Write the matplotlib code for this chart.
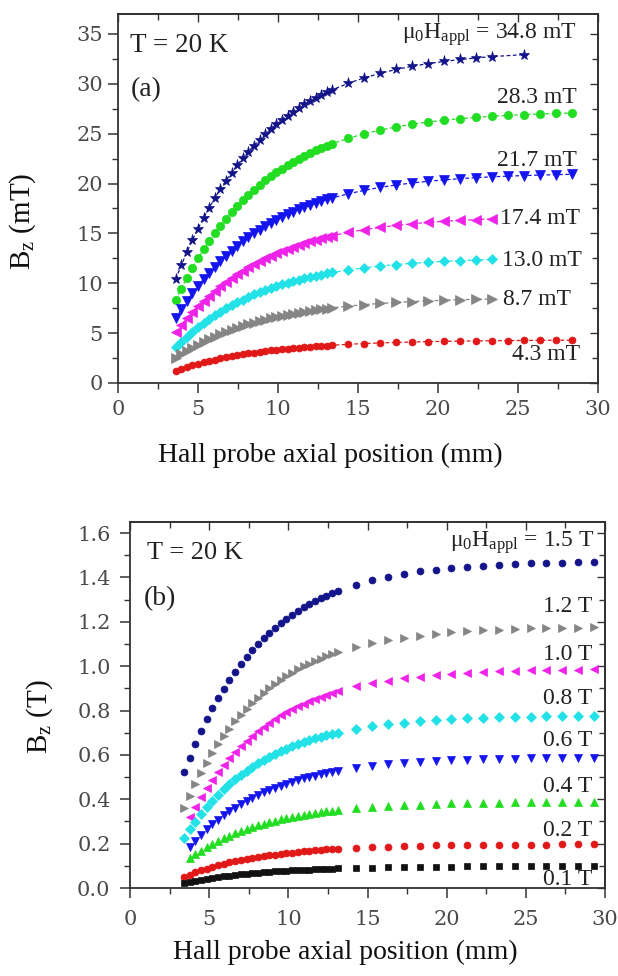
import matplotlib
matplotlib.use("Agg")
import matplotlib.pyplot as plt
from matplotlib.ticker import MultipleLocator, FormatStrFormatter, NullFormatter

plt.rcParams.update({
    "font.family": ["Liberation Serif", "DejaVu Serif"],
    "mathtext.fontset": "custom",
    "mathtext.rm": "Liberation Serif",
    "mathtext.it": "Liberation Serif:italic",
    "mathtext.bf": "Liberation Serif:bold",
})

# ── (a) low field, mT ──
XA_DENSE = [3.6, 3.95, 4.3, 4.65, 5.0, 5.35, 5.7, 6.05, 6.4, 6.75, 7.1, 7.45, 7.8, 8.15,
            8.5, 8.85, 9.2, 9.55, 9.9, 10.25, 10.6, 10.95, 11.3, 11.65, 12.0, 12.35, 12.7,
            13.05, 13.4]
XA_TAIL = [14.4, 15.4, 16.4, 17.4, 18.4, 19.4, 20.4, 21.4, 22.4, 23.4, 24.4, 25.4, 26.4,
           27.4, 28.4]

A_LABELS = ["34.8", "28.3", "21.7", "17.4", "13.0", "8.7", "4.3"]
A_348 = [10.40, 11.79, 13.10, 14.33, 15.49, 16.57, 17.59, 18.55, 19.45, 20.29, 21.09, 21.84,
         22.53, 23.19, 23.81, 24.39, 24.94, 25.45, 25.93, 26.38, 26.81, 27.21, 27.59, 27.94,
         28.27, 28.58, 28.87, 29.14, 29.40,
         30.06, 30.60, 31.06, 31.44, 31.76, 32.03, 32.25, 32.44, 32.60, 32.73, 32.93]
A_283 = [8.30, 9.45, 10.53, 11.55, 12.50, 13.40, 14.24, 15.03, 15.78, 16.47, 17.13, 17.75,
         18.32, 18.87, 19.38, 19.86, 20.31, 20.73, 21.13, 21.50, 21.86, 22.19, 22.50, 22.79,
         23.06, 23.32, 23.56, 23.78, 24.00,
         24.54, 24.99, 25.37, 25.68, 25.95, 26.17, 26.35, 26.51, 26.64, 26.75, 26.84, 26.91,
         26.98, 27.03, 27.07]
A_217 = [6.50, 7.38, 8.22, 9.00, 9.73, 10.42, 11.07, 11.67, 12.25, 12.78, 13.28, 13.76,
         14.20, 14.62, 15.01, 15.38, 15.73, 16.05, 16.36, 16.65, 16.92, 17.17, 17.41, 17.63,
         17.84, 18.04, 18.23, 18.40, 18.56,
         18.98, 19.32, 19.62, 19.86, 20.06, 20.23, 20.37, 20.49, 20.59, 20.68, 20.74, 20.80,
         20.85, 20.89, 20.93]
A_174 = [5.10, 5.81, 6.47, 7.10, 7.69, 8.24, 8.76, 9.25, 9.70, 10.13, 10.54, 10.92, 11.27,
         11.61, 11.92, 12.22, 12.50, 12.76, 13.00, 13.23, 13.45, 13.65, 13.84, 14.02, 14.19,
         14.35, 14.50, 14.64, 14.77,
         15.10, 15.38, 15.61, 15.80, 15.97, 16.10, 16.22, 16.31, 16.39, 16.46]
A_130 = [3.60, 4.15, 4.66, 5.15, 5.60, 6.03, 6.43, 6.81, 7.16, 7.49, 7.81, 8.10, 8.37, 8.63,
         8.88, 9.11, 9.32, 9.52, 9.71, 9.89, 10.06, 10.21, 10.36, 10.50, 10.63, 10.75, 10.87,
         10.98, 11.08,
         11.33, 11.55, 11.73, 11.88, 12.01, 12.11, 12.20, 12.27, 12.34, 12.39]
A_087 = [2.50, 2.87, 3.22, 3.54, 3.85, 4.14, 4.41, 4.66, 4.90, 5.12, 5.33, 5.53, 5.72, 5.89,
         6.06, 6.21, 6.36, 6.49, 6.62, 6.74, 6.85, 6.96, 7.06, 7.15, 7.24, 7.32, 7.40, 7.47,
         7.54,
         7.71, 7.86, 7.98, 8.08, 8.17, 8.24, 8.30, 8.35, 8.39, 8.42]
A_043 = [1.25, 1.44, 1.61, 1.78, 1.93, 2.08, 2.21, 2.34, 2.46, 2.58, 2.68, 2.78, 2.87, 2.96,
         3.05, 3.12, 3.20, 3.27, 3.33, 3.39, 3.45, 3.50, 3.55, 3.60, 3.64, 3.68, 3.72, 3.76,
         3.79,
         3.88, 3.96, 4.02, 4.07, 4.11, 4.15, 4.18, 4.20, 4.22, 4.24, 4.25, 4.27, 4.28, 4.29,
         4.29]

# ── (b) high field, T ──
XB_DENSE = [3.4, 3.76, 4.12, 4.48, 4.84, 5.2, 5.56, 5.92, 6.28, 6.64, 7.0, 7.36, 7.72, 8.08,
            8.44, 8.8, 9.16, 9.52, 9.88, 10.24, 10.6, 10.96, 11.32, 11.68, 12.04, 12.4, 12.76,
            13.12]
XB_TAIL = [14.3, 15.3, 16.3, 17.3, 18.3, 19.3, 20.3, 21.3, 22.3, 23.3, 24.3, 25.3, 26.3,
           27.3, 28.3, 29.3]

B_LABELS = ["1.5", "1.2", "1.0", "0.8", "0.6", "0.4", "0.2", "0.1"]
B_15 = [0.522, 0.588, 0.650, 0.707, 0.760, 0.810, 0.856, 0.899, 0.939, 0.976, 1.011, 1.043,
        1.073, 1.101, 1.127, 1.151, 1.174, 1.195, 1.214, 1.232, 1.249, 1.265, 1.279, 1.293,
        1.306, 1.317, 1.328, 1.339,
        1.367, 1.387, 1.403, 1.416, 1.427, 1.435, 1.443, 1.448, 1.453, 1.457, 1.460, 1.463,
        1.465, 1.467, 1.468, 1.470]
B_12 = [0.360, 0.417, 0.470, 0.519, 0.565, 0.608, 0.648, 0.685, 0.719, 0.751, 0.781, 0.809,
        0.834, 0.858, 0.881, 0.902, 0.921, 0.939, 0.956, 0.971, 0.986, 0.999, 1.012, 1.023,
        1.034, 1.044, 1.054, 1.063,
        1.087, 1.104, 1.118, 1.129, 1.138, 1.146, 1.152, 1.157, 1.161, 1.165, 1.167, 1.170,
        1.172, 1.173, 1.174, 1.175]
B_10 = [0.320, 0.367, 0.410, 0.450, 0.488, 0.523, 0.555, 0.585, 0.613, 0.640, 0.664, 0.687,
        0.708, 0.727, 0.745, 0.762, 0.778, 0.793, 0.807, 0.819, 0.831, 0.842, 0.853, 0.862,
        0.871, 0.879, 0.887,
        0.909, 0.923, 0.935, 0.945, 0.953, 0.960, 0.966, 0.970, 0.974, 0.977, 0.979, 0.981,
        0.983, 0.984, 0.985, 0.986]
B_08 = [0.225, 0.264, 0.299, 0.333, 0.364, 0.393, 0.420, 0.445, 0.468, 0.490, 0.510, 0.529,
        0.546, 0.562, 0.577, 0.592, 0.605, 0.617, 0.628, 0.639, 0.648, 0.658, 0.666, 0.674,
        0.681, 0.688, 0.695, 0.701,
        0.717, 0.729, 0.738, 0.746, 0.752, 0.757, 0.761, 0.765, 0.767, 0.770, 0.772, 0.773,
        0.774, 0.775, 0.776, 0.777]
B_06 = [0.185, 0.213, 0.240, 0.264, 0.287, 0.308, 0.327, 0.345, 0.362, 0.378, 0.393, 0.407,
        0.419, 0.431, 0.442, 0.453, 0.462, 0.471, 0.479, 0.487, 0.494, 0.501, 0.507, 0.513,
        0.518, 0.523, 0.528,
        0.541, 0.550, 0.557, 0.563, 0.568, 0.572, 0.575, 0.578, 0.580, 0.582, 0.583, 0.585,
        0.586, 0.586, 0.587, 0.588]
B_04 = [0.135, 0.153, 0.169, 0.185, 0.199, 0.212, 0.224, 0.236, 0.247, 0.257, 0.266, 0.275,
        0.283, 0.290, 0.297, 0.303, 0.309, 0.315, 0.320, 0.325, 0.330, 0.334, 0.338, 0.341,
        0.345, 0.348, 0.351,
        0.359, 0.365, 0.369, 0.373, 0.376, 0.379, 0.381, 0.382, 0.384, 0.385, 0.386, 0.387,
        0.387, 0.388, 0.388, 0.388]
B_02 = [0.050, 0.060, 0.070, 0.079, 0.087, 0.095, 0.102, 0.109, 0.115, 0.121, 0.126, 0.131,
        0.136, 0.140, 0.144, 0.148, 0.151, 0.154, 0.157, 0.160, 0.163, 0.165, 0.168, 0.170,
        0.172, 0.174, 0.175, 0.177,
        0.181, 0.184, 0.187, 0.189, 0.190, 0.192, 0.193, 0.194, 0.195, 0.195, 0.196, 0.196,
        0.196, 0.197, 0.197, 0.197]
B_01 = [0.022, 0.027, 0.032, 0.037, 0.041, 0.045, 0.049, 0.052, 0.056, 0.059, 0.062, 0.064,
        0.067, 0.069, 0.071, 0.073, 0.075, 0.076, 0.078, 0.079, 0.081, 0.082, 0.083, 0.084,
        0.085, 0.086, 0.087, 0.088,
        0.090, 0.092, 0.093, 0.094, 0.095, 0.096, 0.096, 0.097, 0.097, 0.097, 0.098, 0.098,
        0.098, 0.098, 0.098, 0.098]

NAVY = "#14148a"; GREEN = "#22dd22"; BLUE = "#1414ee"; MAG = "#ee22e8"
CYAN = "#22e2e8"; GRAY = "#858585"; RED = "#e01818"; BLACK = "#111111"
SPINE = "#333333"; TXT = "#222222"
TICKFONT = "DejaVu Serif"

FIGW, FIGH = 6.18, 9.76
fig = plt.figure(figsize=(FIGW, FIGH), dpi=100)
axa = fig.add_axes([118 / 618, 1 - 383 / 976, 480 / 618, 369 / 976])
axb = fig.add_axes([130 / 618, 1 - 888 / 976, 475 / 618, 366 / 976])


def style(ax, ymax, ymaj, ymin, yfmt, xpad, ypad):
    ax.set_xlim(0, 30)
    ax.set_ylim(0, ymax)
    ax.xaxis.set_major_locator(MultipleLocator(5))
    ax.xaxis.set_minor_locator(MultipleLocator(2.5))
    ax.yaxis.set_major_locator(MultipleLocator(ymaj))
    ax.yaxis.set_minor_locator(MultipleLocator(ymin))
    ax.yaxis.set_major_formatter(FormatStrFormatter(yfmt))
    ax.tick_params(which="major", direction="out", length=7, width=1.1, color=SPINE,
                   labelcolor="#4a4a4a", labelsize=15)
    ax.tick_params(which="minor", direction="out", length=4, width=1.0, color=SPINE)
    ax.tick_params(axis="x", which="major", pad=xpad)
    ax.tick_params(axis="y", which="major", pad=ypad)
    for lab in ax.get_xticklabels() + ax.get_yticklabels():
        lab.set_fontfamily(TICKFONT)
    for s in ax.spines.values():
        s.set_linewidth(1.3)
        s.set_color(SPINE)
    top = ax.secondary_xaxis("top")
    top.xaxis.set_major_locator(MultipleLocator(5))
    top.xaxis.set_minor_locator(MultipleLocator(2.5))
    top.xaxis.set_major_formatter(NullFormatter())
    top.tick_params(which="major", direction="in", length=6, width=1.0, color=SPINE)
    top.tick_params(which="minor", direction="in", length=4, width=1.0, color=SPINE)
    right = ax.secondary_yaxis("right")
    right.yaxis.set_major_locator(MultipleLocator(ymaj))
    right.yaxis.set_minor_locator(MultipleLocator(ymin))
    right.yaxis.set_major_formatter(NullFormatter())
    right.tick_params(which="major", direction="in", length=6, width=1.0, color=SPINE)
    right.tick_params(which="minor", direction="in", length=4, width=1.0, color=SPINE)
    for sec in (top, right):
        for s in sec.spines.values():
            s.set_linewidth(1.3)
            s.set_color(SPINE)


# (a)
xa_long = XA_DENSE + XA_TAIL
xa_short = XA_DENSE + XA_TAIL[:10]
xa_star = XA_DENSE + XA_TAIL[:10] + [XA_TAIL[11]]
series_a = [
    (xa_star, A_348, "*", NAVY, 8.0),
    (xa_long, A_283, "o", GREEN, 6.0),
    (xa_long, A_217, "v", BLUE, 6.5),
    (xa_short, A_174, "<", MAG, 6.5),
    (xa_short, A_130, "D", CYAN, 5.0),
    (xa_short, A_087, ">", GRAY, 6.5),
    (xa_long, A_043, "o", RED, 5.0),
]
for xs, ys, mk, c, ms in series_a:
    axa.plot(xs, ys, ls=(0, (3, 2)), lw=0.9, color=c, marker=mk, ms=ms,
             mfc=c, mec=c, mew=0.5)
style(axa, 37, 5, 2.5, "%d", xpad=5, ypad=4)

kw = dict(transform=axa.transAxes, fontsize=17, color=TXT, va="center")
axa.text(0.024, 1 - 32 / 369, "T = 20 K", ha="left", fontsize=19.5,
         transform=axa.transAxes, color=TXT, va="center")
axa.text(0.026, 1 - 76 / 369, "(a)", ha="left", fontsize=20,
         transform=axa.transAxes, color=TXT, va="center")
axa.text(0.956, 0.943, r"μ$_0$H$_{\rm appl}$ = " + A_LABELS[0] + " mT", ha="right", **kw)
axa.text(0.956, 0.775, A_LABELS[1] + " mT", ha="right", **kw)
axa.text(0.956, 0.604, A_LABELS[2] + " mT", ha="right", **kw)
axa.text(0.796, 0.447, A_LABELS[3] + " mT", ha="left", **kw)
axa.text(0.800, 0.333, A_LABELS[4] + " mT", ha="left", **kw)
axa.text(0.802, 0.225, A_LABELS[5] + " mT", ha="left", **kw)
axa.text(0.820, 0.076, A_LABELS[6] + " mT", ha="left", **kw)

# (b)
xb_long = XB_DENSE + XB_TAIL
xb_late = XB_DENSE[1:] + XB_TAIL
series_b = [
    (xb_long, B_15, "o", NAVY, 5.0),
    (xb_long, B_12, ">", GRAY, 6.0),
    (xb_late, B_10, "<", MAG, 6.0),
    (xb_long, B_08, "D", CYAN, 5.0),
    (xb_late, B_06, "v", BLUE, 6.0),
    (xb_late, B_04, "^", GREEN, 6.0),
    (xb_long, B_02, "o", RED, 5.0),
    (xb_long, B_01, "s", BLACK, 4.0),
]
for xs, ys, mk, c, ms in series_b:
    axb.plot(xs, ys, ls="none", color=c, marker=mk, ms=ms, mfc=c, mec=c, mew=0.5,
             clip_on=False)
style(axb, 1.65, 0.2, 0.1, "%.1f", xpad=9, ypad=7)

kw = dict(transform=axb.transAxes, fontsize=17, color=TXT, va="center")
axb.text(0.036, 0.915, "T = 20 K", ha="left", fontsize=19, transform=axb.transAxes,
         color=TXT, va="center")
axb.text(0.028, 0.79, "(b)", ha="left", fontsize=20, transform=axb.transAxes,
         color=TXT, va="center")
axb.text(0.979, 0.945, r"μ$_0$H$_{\rm appl}$ = " + B_LABELS[0] + " T", ha="right", **kw)
ypos_b = [0.768, 0.637, 0.519, 0.404, 0.276, 0.158, 0.022]
for lab, yy in zip(B_LABELS[1:], ypos_b):
    axb.text(0.973, yy, lab + " T", ha="right", **kw)

# axis titles
fig.text(330 / 618, 1 - 455 / 976, "Hall probe axial position (mm)", ha="center",
         va="center", fontsize=20, color="#111111")
fig.text(345 / 618, 1 - 952 / 976, "Hall probe axial position (mm)", ha="center",
         va="center", fontsize=20, color="#111111")
fig.text(23 / 618, 1 - 221 / 976, r"B$_{\rm z}$ (mT)", ha="center", va="center",
         rotation=90, fontsize=21, color="#111111")
fig.text(40 / 618, 1 - 717 / 976, r"B$_{\rm z}$ (T)", ha="center", va="center",
         rotation=90, fontsize=21, color="#111111")

fig.savefig("out.png", dpi=100, facecolor="white")
